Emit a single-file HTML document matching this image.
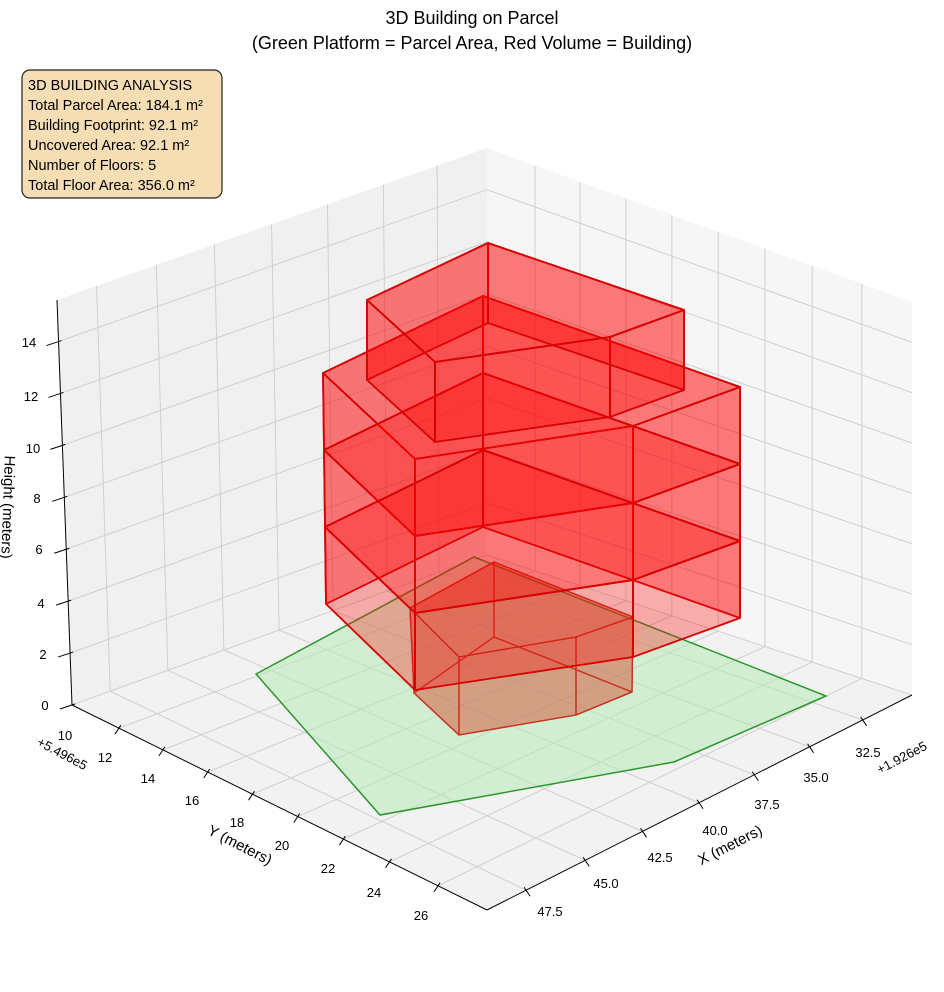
<!DOCTYPE html>
<html><head><meta charset="utf-8"><style>
body{margin:0;background:#fff;}
svg{display:block;font-family:"Liberation Sans",sans-serif;}
</style></head><body>
<svg id="s" width="944" height="992" viewBox="0 0 944 992" xmlns="http://www.w3.org/2000/svg">
<rect width="944" height="992" fill="#fff"/>
<polygon points="57,300 487,148 487,555 72,705" fill="#f0f0f0"/>
<polygon points="487,148 912,302 912,695 487,555" fill="#f6f6f6"/>
<polygon points="72,705 487,555 912,695 487,910" fill="#f2f2f2"/>
<g id="grid" stroke="#cbcbcb" stroke-width="0.9" fill="none"></g>
<line x1="57" y1="300" x2="72" y2="705" stroke="#000" stroke-width="1"/>
<line x1="72" y1="705" x2="487" y2="910" stroke="#000" stroke-width="1"/>
<line x1="487" y1="910" x2="912" y2="695" stroke="#000" stroke-width="1"/>
<g id="ticks" stroke="#000" stroke-width="1"></g>

<polygon points="256,674 474,557 826,696 674,762 380,815" fill="#b8ebb8" fill-opacity="0.55" stroke="#2a962a" stroke-width="1.5"/>

<g id="bld" stroke-linejoin="round"></g>

<g font-size="13" fill="#000" text-anchor="middle">
<text x="45" y="710">0</text><text x="43" y="659">2</text><text x="41" y="608">4</text><text x="39" y="554">6</text><text x="37" y="503">8</text><text x="33" y="453">10</text><text x="31" y="401">12</text><text x="29" y="347">14</text>
<text x="65" y="740">10</text><text x="105" y="762">12</text><text x="148" y="783">14</text><text x="192" y="805">16</text><text x="237" y="827">18</text><text x="282" y="850">20</text><text x="328" y="873">22</text><text x="374" y="897">24</text><text x="421" y="920">26</text>
<text x="868" y="757">32.5</text><text x="816" y="782">35.0</text><text x="767" y="809">37.5</text><text x="715" y="835">40.0</text><text x="660" y="862">42.5</text><text x="606" y="888">45.0</text><text x="550" y="916">47.5</text>
</g>
<text x="62" y="758" font-size="13" text-anchor="middle" transform="rotate(28 62 754)">+5.496e5</text>
<text x="902" y="762" font-size="13" text-anchor="middle" transform="rotate(-28 902 758)">+1.926e5</text>
<text x="240" y="850" font-size="15" text-anchor="middle" transform="rotate(27 240 845)">Y (meters)</text>
<text x="730" y="850" font-size="15" text-anchor="middle" transform="rotate(-27 730 845)">X (meters)</text>
<text x="0" y="510" font-size="15" text-anchor="middle" transform="rotate(92 3 510)">Height (meters)</text>

<text x="472" y="24" font-size="18" text-anchor="middle">3D Building on Parcel</text>
<text x="472" y="49" font-size="18" text-anchor="middle">(Green Platform = Parcel Area, Red Volume = Building)</text>

<rect x="22" y="70" width="200" height="128" rx="8" fill="#f5deb3" stroke="#222" stroke-width="1.2"/>
<g font-size="14.5" fill="#000">
<text x="28" y="90">3D BUILDING ANALYSIS</text>
<text x="28" y="110">Total Parcel Area: 184.1 m²</text>
<text x="28" y="130">Building Footprint: 92.1 m²</text>
<text x="28" y="150">Uncovered Area: 92.1 m²</text>
<text x="28" y="170">Number of Floors: 5</text>
<text x="28" y="190">Total Floor Area: 356.0 m²</text>
</g>
</svg>
<script>
var NS="http://www.w3.org/2000/svg";
function L(p,x1,y1,x2,y2,st){var l=document.createElementNS(NS,"line");l.setAttribute("x1",x1);l.setAttribute("y1",y1);l.setAttribute("x2",x2);l.setAttribute("y2",y2);if(st)l.setAttribute("style",st);p.appendChild(l);}
function lerp(a,b,t){return [a[0]+(b[0]-a[0])*t,a[1]+(b[1]-a[1])*t];}
var g=document.getElementById("grid");
var back=[487,555],left=[72,705],right=[912,695],front=[487,910];
var bT=[487,148],lT=[57,300],rT=[912,302];
var ts=[0.908,0.769,0.634,0.501,0.371,0.241,0.116];
ts.forEach(function(t){var a=lerp(back,left,t),b=lerp(bT,lT,t),c=lerp(right,front,t);L(g,a[0],a[1],b[0],b[1]);L(g,a[0],a[1],c[0],c[1]);});
var ss=[0.113,0.219,0.327,0.435,0.544,0.654,0.765,0.882];
ss.forEach(function(s){var a=lerp(back,right,s),b=lerp(bT,rT,s),c=lerp(left,front,s);L(g,a[0],a[1],b[0],b[1]);L(g,a[0],a[1],c[0],c[1]);});
var tk=document.getElementById("ticks");
for(var z=0;z<=14;z+=2){var f=z/15.6;var a=lerp(left,lT,f),b=lerp(back,bT,f),c=lerp(right,rT,f);L(g,a[0],a[1],b[0],b[1]);L(g,b[0],b[1],c[0],c[1]);L(tk,a[0]-12,a[1]+4,a[0]+3,a[1]-1);}
ss.forEach(function(s){var c=lerp(left,front,s);L(tk,c[0]-4,c[1]+6,c[0]+2,c[1]-3);});
ts.forEach(function(t){var c=lerp(right,front,t);L(tk,c[0]+4,c[1]+6,c[0]-2,c[1]-3);});
var bld=document.getElementById("bld");
function P(pts,fill,op,stroke,sw){var p=document.createElementNS(NS,"polygon");p.setAttribute("points",pts.map(function(q){return q[0]+","+q[1];}).join(" "));p.setAttribute("fill",fill);p.setAttribute("fill-opacity",op);p.setAttribute("stroke",stroke);p.setAttribute("stroke-width",sw);bld.appendChild(p);}
function prism(top,bot,fill,op,stroke,sw,withBot){
 if(withBot)P(bot,fill,op,stroke,sw);
 for(var i=0;i<top.length;i++){var j=(i+1)%top.length;P([top[i],top[j],bot[j],bot[i]],fill,op,stroke,sw);}
 P(top,fill,op,stroke,sw);}
var f1t=[[410,608],[494,562],[633,617],[576,637],[459,657]];
var f1b=[[414,693],[494,637],[632,692],[576,715],[459,735]];
prism(f1t,f1b,"#d23a20",0.25,"#c8301e",1.3,true);
var top4=[[323,373],[483,296],[740,387],[633,426],[415,459]];
var offs=[0,77,154,231];
for(var k=0;k<3;k++){
 var t=top4.map(function(q){return [q[0]+(q[0]<400?1:0)*k,q[1]+offs[k]];});
 var b=top4.map(function(q){return [q[0]+(q[0]<400?1:0)*(k+1),q[1]+offs[k+1]];});
 prism(t,b,"#ff0000",0.3,"#d80000",1.8,false);
}
var top5=[[488,243],[367,300],[435,362],[610,337],[684,310]];
var bot5=top5.map(function(q){return [q[0],q[1]+80];});
prism(top5,bot5,"#ff0000",0.3,"#d80000",1.8,false);
</script>
</body></html>
